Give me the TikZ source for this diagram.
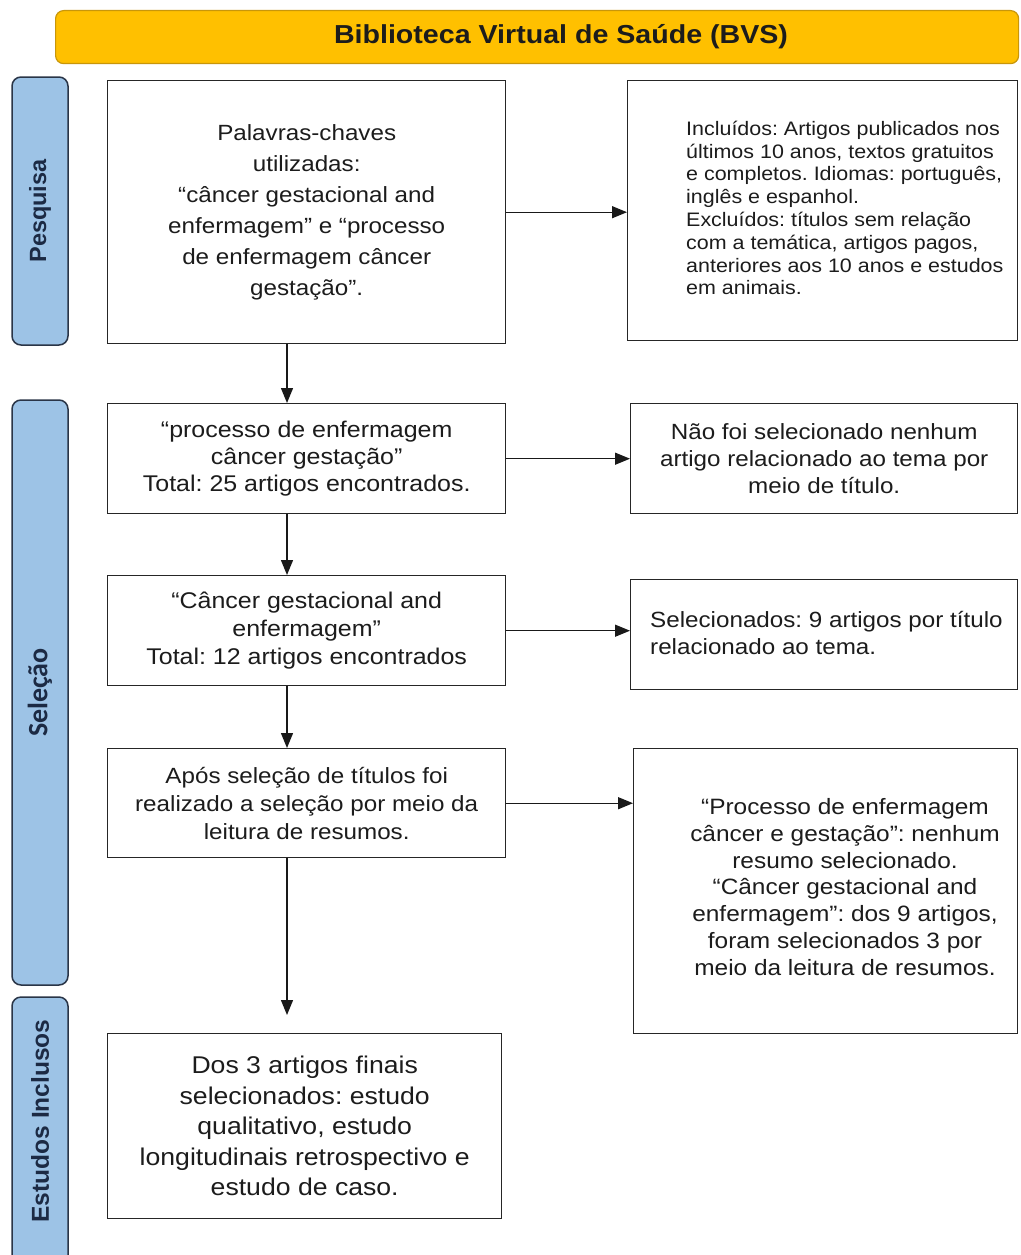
\documentclass[tikz,border=0pt]{standalone}
\usepackage{fontspec}
\setmainfont[FakeStretch=1.1]{Liberation Sans}
\newfontfamily\sidefont{Liberation Sans}
\newfontfamily\carlfont{Carlito}
\usetikzlibrary{arrows.meta}
\definecolor{hdrfill}{HTML}{FFC000}
\definecolor{hdrline}{HTML}{C8960A}
\definecolor{sidefill}{HTML}{9DC3E6}
\definecolor{sideline}{HTML}{2A3547}
\definecolor{sidetext}{HTML}{1C2A44}
\definecolor{txt}{HTML}{1C1C1C}
\tikzset{
  hdrbox/.style={draw=hdrline, fill=hdrfill, line width=1.2pt, rounded corners=8pt, anchor=north west, inner sep=0pt},
  sidebox/.style={draw=sideline, fill=sidefill, line width=1.5pt, rounded corners=9pt, rotate=90, inner sep=0pt, minimum height=56pt, text=sidetext, font=\fontsize{23.5}{26}\selectfont\sidefont\bfseries},
  flowbox/.style={draw=black!85, line width=1.4pt, anchor=north west, inner sep=0pt, align=center, text=txt},
  plain/.style={inner sep=0pt, text=txt},
  arr/.style={-{Triangle[length=15pt,width=12pt]}, line width=1.3pt, draw=black!90}
}
\begin{document}
\frenchspacing
\begin{tikzpicture}[x=1pt,y=-1pt]
\useasboundingbox[fill=white] (0,0) rectangle (1020,1255);
\coordinate (ax) at (287,0);

% header
\node[hdrbox, minimum width=963pt, minimum height=53pt] (hdr) at (55,10) {};
\node[plain, font=\fontsize{26}{30}\selectfont\bfseries] (hdrt) at (561,37) {Biblioteca Virtual de Saúde (BVS)};

% side labels
\node[sidebox, minimum width=268pt] (s1) at (40,211) {Pesquisa};
\node[sidebox, minimum width=585pt, font=\fontsize{28}{30}\selectfont\carlfont\bfseries] (s2) at (40,692.5) {Seleção};
\node[sidebox, minimum width=276pt] (s3) at (40,1135) {};
\node[plain, rotate=90, text=sidetext, font=\fontsize{24.5}{26}\selectfont\sidefont\bfseries] (s3t) at (s3.center |- 0,1121) {Estudos Inclusos};

% left column
\node[flowbox, minimum width=398pt, minimum height=263pt, font=\fontsize{22}{31}\selectfont] (b1) at (107,80)
  {Palavras-chaves\\utilizadas:\\“câncer gestacional and\\enfermagem” e “processo\\de enfermagem câncer\\gestação”.};
\node[flowbox, minimum width=398pt, minimum height=110pt, font=\fontsize{22.7}{27}\selectfont] (b2) at (107,403)
  {“processo de enfermagem\\câncer gestação”\\Total: 25 artigos encontrados.};
\node[flowbox, minimum width=398pt, minimum height=110pt, font=\fontsize{22.7}{28}\selectfont] (b3) at (107,575)
  {“Câncer gestacional and\\enfermagem”\\Total: 12 artigos encontrados};
\node[flowbox, minimum width=398pt, minimum height=109pt, font=\fontsize{22}{28}\selectfont] (b4) at (107,748)
  {Após seleção de títulos foi\\realizado a seleção por meio da\\leitura de resumos.};
\node[flowbox, minimum width=394pt, minimum height=185pt, font=\fontsize{24.2}{30.5}\selectfont] (b5) at (107,1033)
  {Dos 3 artigos finais\\selecionados: estudo\\qualitativo, estudo\\longitudinais retrospectivo e\\estudo de caso.};

% right column
\node[flowbox, minimum width=390pt, minimum height=260pt] (r1) at (627,80) {};
\node[plain, anchor=west, align=left, font=\fontsize{19.5}{22.8}\selectfont] (r1t) at (686,208)
  {Incluídos: Artigos publicados nos\\últimos 10 anos, textos gratuitos\\e completos. Idiomas: português,\\inglês e espanhol.\\Excluídos: títulos sem relação\\com a temática, artigos pagos,\\anteriores aos 10 anos e estudos\\em animais.};
\node[flowbox, minimum width=387pt, minimum height=110pt, font=\fontsize{22}{27}\selectfont] (r2) at (630,403)
  {Não foi selecionado nenhum\\artigo relacionado ao tema por\\meio de título.};
\node[flowbox, minimum width=387pt, minimum height=110pt] (r3) at (630,579) {};
\node[plain, anchor=west, align=left, font=\fontsize{22}{27}\selectfont] (r3t) at (650,633)
  {Selecionados: 9 artigos por título\\relacionado ao tema.};
\node[flowbox, minimum width=384pt, minimum height=285pt] (r4) at (633,748) {};
\node[plain, align=center, font=\fontsize{22.2}{26.8}\selectfont] (r4t) at (845,887)
  {“Processo de enfermagem\\câncer e gestação”: nenhum\\resumo selecionado.\\“Câncer gestacional and\\enfermagem”: dos 9 artigos,\\foram selecionados 3 por\\meio da leitura de resumos.};

% connectors
\draw[arr] (b1.east) -- (b1.east -| r1.west);
\draw[arr] (b2.east) -- (b2.east -| r2.west);
\draw[arr] (b3.east) -- (b3.east -| r3.west);
\draw[arr] (b4.east) -- (b4.east -| r4.west);
\draw[arr] (b1.south -| ax) -- (b2.north -| ax);
\draw[arr] (b2.south -| ax) -- (b3.north -| ax);
\draw[arr] (b3.south -| ax) -- (b4.north -| ax);
\draw[arr, shorten >=18pt] (b4.south -| ax) -- (b5.north -| ax);
\end{tikzpicture}
\end{document}
